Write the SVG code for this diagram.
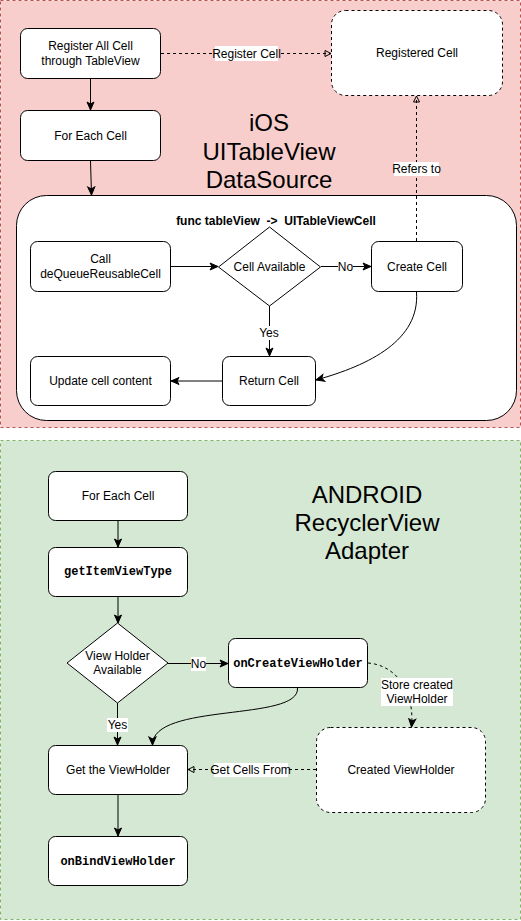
<svg xmlns="http://www.w3.org/2000/svg" width="521" height="921" viewBox="0 0 521 921">
<style>
text{font-family:"Liberation Sans",Arial,sans-serif;font-size:12px;fill:#000;text-anchor:middle;dominant-baseline:central}
.n{fill:#fff;stroke:#000;stroke-width:1}
.d{fill:#fff;stroke:#000;stroke-width:1;stroke-dasharray:3 3}
.mono{font-family:"Liberation Mono","Courier New",monospace;font-weight:bold;font-size:12px}
.title{font-size:24px}
.e{fill:none;stroke:#000;stroke-width:1}
.ed{fill:none;stroke:#000;stroke-width:1;stroke-dasharray:3 3}
.lb{fill:#fff}
</style>
<defs>
<marker id="a" markerUnits="userSpaceOnUse" markerWidth="10" markerHeight="10" viewBox="0 0 10 10" refX="9" refY="5" orient="auto">
<path d="M1,1.5 L9,5 L1,8.5 L3,5 z" fill="#000" stroke="#000" stroke-width="1"/>
</marker>
<marker id="o" markerUnits="userSpaceOnUse" markerWidth="10" markerHeight="10" viewBox="0 0 10 10" refX="8" refY="5" orient="auto">
<path d="M2,2 L8,5 L2,8 z" fill="none" stroke="#000" stroke-width="1"/>
</marker>
</defs>

<g id="ios-bg">
<rect x="0.5" y="0.5" width="520" height="427" fill="#f8cecc" stroke="#b85450" stroke-dasharray="3 3"/>
</g>
<g id="android-bg">
<rect x="0.5" y="440.5" width="520" height="479" fill="#d5e8d4" stroke="#82b366" stroke-dasharray="3 3"/>
</g>

<g id="ios-title">
<text class="title" x="269" y="122">iOS</text>
<text class="title" x="269" y="151">UITableView</text>
<text class="title" x="269" y="179">DataSource</text>
</g>
<g id="android-title">
<text class="title" x="367" y="494">ANDROID</text>
<text class="title" x="367" y="522">RecyclerView</text>
<text class="title" x="367" y="550">Adapter</text>
</g>

<g id="register-all">
<rect class="n" x="20.5" y="28.5" width="140" height="50" rx="7"/>
<text x="90.5" y="46">Register All Cell</text>
<text x="90.5" y="61">through TableView</text>
</g>
<g id="registered-cell">
<rect class="d" x="331.5" y="10.5" width="171" height="85" rx="14"/>
<text x="417" y="53">Registered Cell</text>
</g>
<g id="for-each-ios">
<rect class="n" x="20.5" y="110.5" width="140" height="50" rx="7"/>
<text x="90.5" y="135.5">For Each Cell</text>
</g>
<g id="func-container">
<rect class="n" x="16.5" y="195.5" width="500" height="225" rx="30"/>
<text x="276" y="221" font-weight="bold" xml:space="preserve" style="white-space:pre">func tableView  -&gt;  UITableViewCell</text>
</g>
<g id="call-dequeue">
<rect class="n" x="30.5" y="241.5" width="140" height="50" rx="7"/>
<text x="100.5" y="259">Call</text>
<text x="100.5" y="274">deQueueReusableCell</text>
</g>
<g id="cell-available">
<path class="n" d="M269.5,227 L320.5,267 L269.5,306 L218.5,267 z"/>
<text x="269.5" y="267">Cell Available</text>
</g>
<g id="create-cell">
<rect class="n" x="371.5" y="241.5" width="91" height="50" rx="7"/>
<text x="417" y="267">Create Cell</text>
</g>
<g id="return-cell">
<rect class="n" x="222.5" y="356.5" width="93" height="49" rx="7"/>
<text x="269" y="381">Return Cell</text>
</g>
<g id="update-cell">
<rect class="n" x="30.5" y="356.5" width="140" height="49" rx="7"/>
<text x="100.5" y="381">Update cell content</text>
</g>

<g id="for-each-android">
<rect class="n" x="48.5" y="471.5" width="139" height="49" rx="7"/>
<text x="118" y="496">For Each Cell</text>
</g>
<g id="get-item-view-type">
<rect class="n" x="48.5" y="547.5" width="139" height="49" rx="7"/>
<text class="mono" x="118" y="572">getItemViewType</text>
</g>
<g id="vh-available">
<path class="n" d="M117.5,623 L168,663 L117.5,703 L67,663 z"/>
<text x="117.5" y="656">View Holder</text>
<text x="117.5" y="670">Available</text>
</g>
<g id="on-create-vh">
<rect class="n" x="228.5" y="638.5" width="139" height="49" rx="7"/>
<text class="mono" x="298" y="664">onCreateViewHolder</text>
</g>
<g id="get-vh">
<rect class="n" x="48.5" y="745.5" width="139" height="49" rx="7"/>
<text x="118" y="770">Get the ViewHolder</text>
</g>
<g id="created-vh">
<rect class="d" x="316.5" y="727.5" width="169" height="85" rx="14"/>
<text x="401" y="770">Created ViewHolder</text>
</g>
<g id="on-bind-vh">
<rect class="n" x="48.5" y="836.5" width="139" height="49" rx="7"/>
<text class="mono" x="118" y="862">onBindViewHolder</text>
</g>

<g id="connectors">
<path class="e" d="M90.5,79 L90.5,110" marker-end="url(#a)"/>
<path class="e" d="M90.5,161 L91.5,195" marker-end="url(#a)"/>
<path class="e" d="M171,266.5 L218,266.5" marker-end="url(#a)"/>
<path class="e" d="M321,266.5 L371,266.5" marker-end="url(#a)"/>
<path class="e" d="M269.5,306 L269.5,356" marker-end="url(#a)"/>
<path class="e" d="M222,381 L171,381" marker-end="url(#a)"/>
<path class="e" d="M416.5,292 C420,340 370,365 316,380" marker-end="url(#a)"/>
<path class="ed" d="M161,53.5 L331,53.5" marker-end="url(#o)"/>
<path class="ed" d="M416.5,241 L416.5,96" marker-end="url(#o)"/>

<path class="e" d="M118,521 L118,547" marker-end="url(#a)"/>
<path class="e" d="M118,597 L118,623" marker-end="url(#a)"/>
<path class="e" d="M168,663.5 L228,663.5" marker-end="url(#a)"/>
<path class="e" d="M117.5,703 L117.5,745" marker-end="url(#a)"/>
<path class="e" d="M297.5,688 C300,722 152,702 152.5,745" marker-end="url(#a)"/>
<path class="e" d="M118,795 L118,836" marker-end="url(#a)"/>
<path class="ed" d="M316,769.5 L188,769.5" marker-end="url(#o)"/>
<path class="ed" d="M368,663 C395,665 415,690 411.5,727" marker-end="url(#a)"/>

<rect class="lb" x="215" y="46" width="63" height="15"/>
<text x="246.5" y="53.5">Register Cell</text>
<rect class="lb" x="394" y="162" width="45" height="14"/>
<text x="416.5" y="169">Refers to</text>
<rect class="lb" x="338" y="260" width="15" height="14"/>
<text x="345.5" y="267">No</text>
<rect class="lb" x="258" y="326" width="22" height="14"/>
<text x="269" y="333">Yes</text>

<rect class="lb" x="191" y="657" width="15" height="14"/>
<text x="198.5" y="664">No</text>
<rect class="lb" x="107" y="718" width="21" height="14"/>
<text x="117.5" y="725">Yes</text>
<rect class="lb" x="214" y="763" width="74" height="14"/>
<text x="250.5" y="770">Get Cells From</text>
<rect class="lb" x="381" y="678" width="72" height="28"/>
<text x="417" y="685">Store created</text>
<text x="417" y="699">ViewHolder</text>
</g>
</svg>
